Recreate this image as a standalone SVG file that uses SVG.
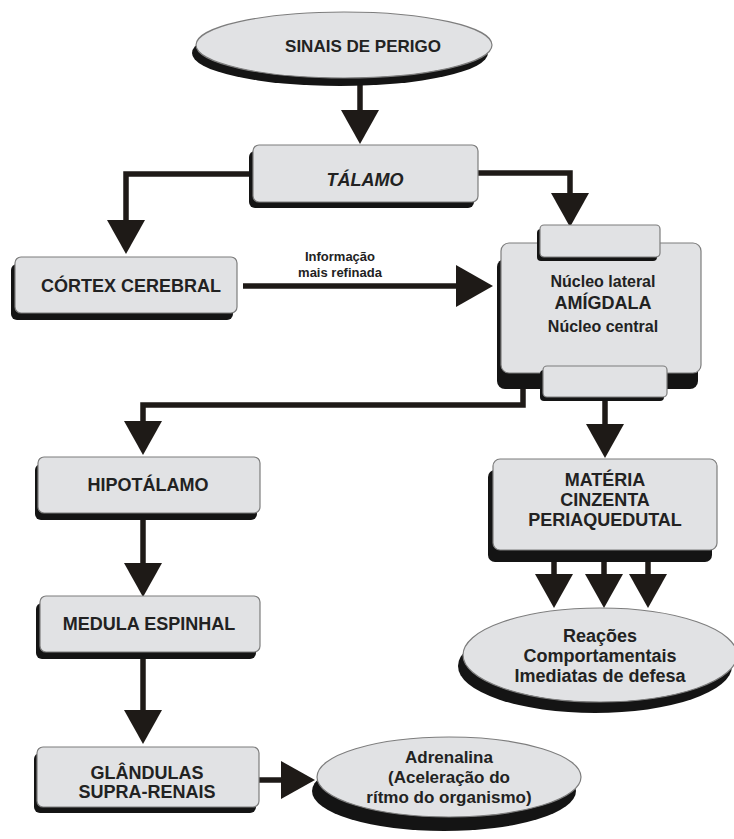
<svg xmlns="http://www.w3.org/2000/svg" width="734" height="839" viewBox="0 0 734 839">
  <style>
    .box { fill: #e1e2e4; stroke: #7d7d7d; stroke-width: 1.2; }
    .shadow { fill: #141414; }
    .lbl { font-family: "Liberation Sans", Arial, sans-serif; font-weight: bold; fill: #222; text-anchor: middle; }
    .edge { fill: none; stroke: #1e1a17; stroke-width: 5.5; stroke-linejoin: miter; }
  </style>
  <defs>
    <marker id="head" markerUnits="userSpaceOnUse" viewBox="0 0 34 38" refX="0" refY="19" markerWidth="34" markerHeight="38" orient="auto">
      <path d="M0,0 L34,19 L0,38 z" fill="#1e1a17"/>
    </marker>
    <marker id="headBig" markerUnits="userSpaceOnUse" viewBox="0 0 37 42" refX="0" refY="21" markerWidth="37" markerHeight="42" orient="auto">
      <path d="M0,0 L37,21 L0,42 z" fill="#1e1a17"/>
    </marker>
  </defs>

  <!-- connectors -->
  <g id="connectors">
    <path class="edge" d="M360,80 V110" marker-end="url(#head)"/>
    <path class="edge" d="M254,174 H126 V220" marker-end="url(#head)"/>
    <path class="edge" d="M477,173 H570 V193" marker-end="url(#head)"/>
    <path class="edge" d="M243,286 H456" marker-end="url(#headBig)"/>
    <path class="edge" d="M523,386 V405 H143 V421" marker-end="url(#head)"/>
    <path class="edge" d="M605,397 V424" marker-end="url(#head)"/>
    <path class="edge" d="M143,518 V563" marker-end="url(#head)"/>
    <path class="edge" d="M143,657 V710" marker-end="url(#head)"/>
    <path class="edge" d="M259,780 H281" marker-end="url(#head)"/>
    <path class="edge" d="M554,560 V574" marker-end="url(#head)"/>
    <path class="edge" d="M604,560 V574" marker-end="url(#head)"/>
    <path class="edge" d="M648,560 V574" marker-end="url(#head)"/>
  </g>

  <g id="sinais">
    <ellipse class="shadow" cx="340" cy="53" rx="148" ry="33"/>
    <ellipse class="box" cx="344" cy="45" rx="148" ry="33"/>
    <text class="lbl" x="363" y="52" font-size="17">SINAIS DE PERIGO</text>
  </g>

  <g id="talamo">
    <rect class="shadow" x="249" y="151" width="225" height="57" rx="6"/>
    <rect class="box" x="253" y="145" width="225" height="57" rx="6"/>
    <text class="lbl" x="365" y="186" font-size="18" font-style="italic">TÁLAMO</text>
  </g>

  <g id="cortex">
    <rect class="shadow" x="11" y="264" width="222" height="56" rx="6"/>
    <rect class="box" x="15" y="257" width="222" height="56" rx="6"/>
    <text class="lbl" x="131" y="292" font-size="18">CÓRTEX CEREBRAL</text>
  </g>

  <g id="info-label">
    <text class="lbl" x="340" y="261" font-size="13">Informação</text>
    <text class="lbl" x="340" y="277" font-size="13">mais refinada</text>
  </g>

  <g id="amigdala">
    <rect class="shadow" x="497" y="259" width="201" height="130" rx="8"/>
    <rect class="box" x="501" y="243" width="200" height="130" rx="8"/>
    <rect class="shadow" x="537" y="229" width="120" height="32" rx="4"/>
    <rect class="box" x="540" y="225" width="120" height="32" rx="4"/>
    <rect class="shadow" x="540" y="370" width="124" height="31" rx="4"/>
    <rect class="box" x="543" y="366" width="124" height="31" rx="4"/>
    <text class="lbl" x="603" y="287" font-size="16">Núcleo lateral</text>
    <text class="lbl" x="603" y="309" font-size="18">AMÍGDALA</text>
    <text class="lbl" x="603" y="332" font-size="16">Núcleo central</text>
  </g>

  <g id="hipotalamo">
    <rect class="shadow" x="35" y="464" width="222" height="56" rx="6"/>
    <rect class="box" x="38" y="457" width="222" height="56" rx="6"/>
    <text class="lbl" x="148" y="491" font-size="18">HIPOTÁLAMO</text>
  </g>

  <g id="materia">
    <rect class="shadow" x="488" y="470" width="224" height="92" rx="7"/>
    <rect class="box" x="493" y="459" width="224" height="91" rx="7"/>
    <text class="lbl" x="605" y="486" font-size="18">MATÉRIA</text>
    <text class="lbl" x="605" y="506" font-size="18">CINZENTA</text>
    <text class="lbl" x="605" y="526" font-size="18">PERIAQUEDUTAL</text>
  </g>

  <g id="medula">
    <rect class="shadow" x="36" y="603" width="220" height="56" rx="6"/>
    <rect class="box" x="40" y="596" width="220" height="56" rx="6"/>
    <text class="lbl" x="149" y="630" font-size="18">MEDULA ESPINHAL</text>
  </g>

  <g id="reacoes">
    <ellipse class="shadow" cx="595" cy="666" rx="137" ry="47"/>
    <ellipse class="box" cx="600" cy="655" rx="137" ry="47"/>
    <text class="lbl" x="600" y="642" font-size="18">Reações</text>
    <text class="lbl" x="600" y="662" font-size="18">Comportamentais</text>
    <text class="lbl" x="600" y="682" font-size="18">Imediatas de defesa</text>
  </g>

  <g id="glandulas">
    <rect class="shadow" x="34" y="753" width="222" height="60" rx="6"/>
    <rect class="box" x="37" y="747" width="222" height="60" rx="6"/>
    <text class="lbl" x="147" y="779" font-size="18">GLÂNDULAS</text>
    <text class="lbl" x="147" y="798" font-size="18">SUPRA-RENAIS</text>
  </g>

  <g id="adrenalina">
    <ellipse class="shadow" cx="444" cy="791" rx="132" ry="40"/>
    <ellipse class="box" cx="449" cy="777" rx="132" ry="40"/>
    <text class="lbl" x="449" y="763" font-size="17">Adrenalina</text>
    <text class="lbl" x="449" y="783" font-size="17">(Aceleração do</text>
    <text class="lbl" x="449" y="803" font-size="17">rítmo do organismo)</text>
  </g>
</svg>
